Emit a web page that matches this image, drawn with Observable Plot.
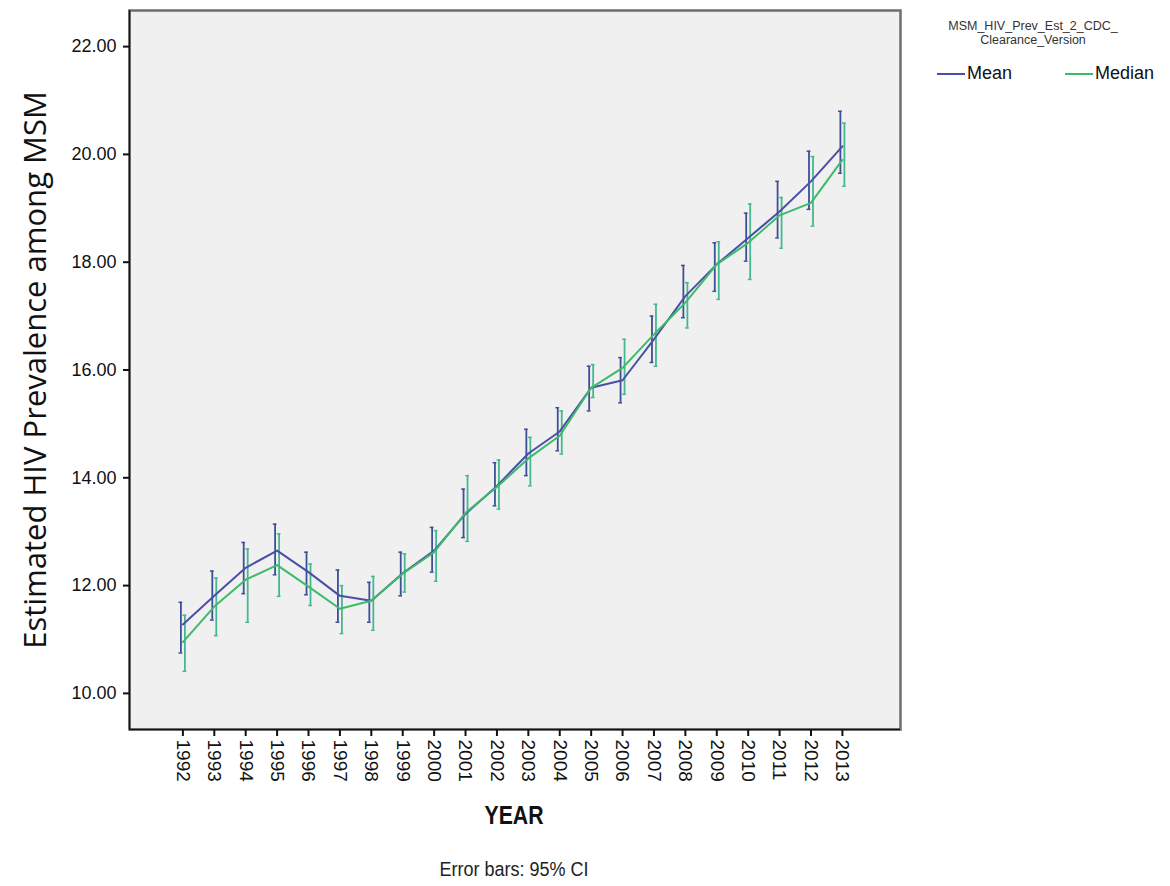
<!DOCTYPE html>
<html>
<head>
<meta charset="utf-8">
<script src="https://cdn.jsdelivr.net/npm/d3@7"></script>
<script src="https://cdn.jsdelivr.net/npm/@observablehq/plot@0.6"></script>
<style>
  body { margin: 0; background: #ffffff; }
  #wrap { position: relative; width: 1170px; height: 886px; overflow: hidden; font-family: "Liberation Sans", Arial, sans-serif; }
  #chart { position: absolute; left: 0; top: 0; }
  .legend-title { position: absolute; left: 933px; width: 200px; text-align: center; font-size: 12.5px; line-height: 14px; color: #333; top: 19px; }
  .legend-item { position: absolute; top: 63px; font-size: 18px; color: #111; display: flex; align-items: center; }
  .legend-item .sw { display: inline-block; width: 28px; height: 2px; margin-right: 2px; }
  #xtitle { position: absolute; left: 414px; width: 200px; text-align: center; top: 801px; font-size: 25px; font-weight: bold; color: #111; transform: scaleX(0.85); }
  #caption { position: absolute; left: 414px; width: 200px; text-align: center; top: 859px; font-size: 18px; color: #222; transform: scaleY(1.15); }
</style>
</head>
<body>
<div id="wrap">
  <div id="chart"></div>
  <div class="legend-title" id="legendTitle"></div>
  <div id="legendItems"></div>
  <div id="xtitle"></div>
  <div id="caption"></div>
</div>
<script>
// ---- data ----
const years = [1992,1993,1994,1995,1996,1997,1998,1999,2000,2001,2002,2003,2004,2005,2006,2007,2008,2009,2010,2011,2012,2013];
const meanValues  = [11.28,11.81,12.33,12.65,12.25,11.81,11.72,12.23,12.65,13.33,13.85,14.45,14.86,15.67,15.81,16.57,17.37,17.96,18.45,18.94,19.50,20.15];
const meanLower   = [10.75,11.36,11.85,12.20,11.83,11.32,11.32,11.81,12.25,12.89,13.48,14.04,14.50,15.24,15.39,16.14,16.97,17.46,18.02,18.45,18.98,19.65];
const meanUpper   = [11.69,12.27,12.80,13.14,12.62,12.29,12.06,12.62,13.08,13.79,14.28,14.90,15.30,16.07,16.23,17.00,17.94,18.36,18.91,19.50,20.06,20.80];
const medianValues= [10.95,11.61,12.11,12.38,11.98,11.57,11.72,12.22,12.62,13.35,13.83,14.36,14.78,15.67,16.04,16.66,17.25,17.96,18.36,18.87,19.10,19.90];
const medianLower = [10.41,11.07,11.32,11.80,11.63,11.11,11.17,11.88,12.08,12.82,13.42,13.85,14.44,15.49,15.55,16.07,16.78,17.31,17.68,18.26,18.67,19.41];
const medianUpper = [11.45,12.14,12.68,12.96,12.40,12.00,12.17,12.59,13.02,14.04,14.33,14.75,15.24,16.10,16.57,17.22,17.62,18.38,19.08,19.20,19.96,20.58];
const yTicks = [10,12,14,16,18,20,22];
const seriesNames = ["Mean","Median"];
const seriesColors = ["#4a4fa6","#3dba6a"];
const barColors = ["#3d4f96","#45b88f"];
const legendTitleLines = ["MSM_HIV_Prev_Est_2_CDC_","Clearance_Version"];
const yLabel = "Estimated HIV Prevalence among MSM";
const xLabel = "YEAR";
const captionText = "Error bars: 95% CI";

// ---- build table ----
const rows = [];
years.forEach((year, i) => {
  rows.push({year, series: seriesNames[0], value: meanValues[i], lo: meanLower[i], hi: meanUpper[i]});
  rows.push({year, series: seriesNames[1], value: medianValues[i], lo: medianLower[i], hi: medianUpper[i]});
});
const meanRows = rows.filter(d => d.series === seriesNames[0]);
const medianRows = rows.filter(d => d.series === seriesNames[1]);

const xDomain = [1990.3, 2014.85];
const yDomain = [9.33, 22.67];
const capHalf = 0.06;

function errorBars(data, color, dx) {
  return [
    Plot.ruleX(data, {x: "year", y1: "lo", y2: "hi", stroke: color, strokeWidth: 1.8, dx}),
    Plot.ruleY(data, {y: "hi", x1: d => d.year - capHalf, x2: d => d.year + capHalf, stroke: color, strokeWidth: 1.5, dx}),
    Plot.ruleY(data, {y: "lo", x1: d => d.year - capHalf, x2: d => d.year + capHalf, stroke: color, strokeWidth: 1.5, dx})
  ];
}

const chart = Plot.plot({
  width: 920,
  height: 800,
  marginLeft: 129,
  marginRight: 20,
  marginTop: 10,
  marginBottom: 71,
  style: {fontFamily: "'Liberation Sans', Arial, sans-serif", color: "#111", background: "transparent"},
  x: {type: "linear", domain: xDomain},
  y: {domain: yDomain},
  marks: [
    Plot.frame({fill: "#f0f0f0", stroke: "#6e6e6e", strokeWidth: 2.5}),
    Plot.ruleX([xDomain[0]], {stroke: "#111", strokeWidth: 1.5}),
    Plot.ruleY([yDomain[0]], {stroke: "#111", strokeWidth: 1.5}),
    ...errorBars(meanRows, barColors[0], -2),
    ...errorBars(medianRows, barColors[1], 2),
    Plot.line(meanRows, {x: "year", y: "value", stroke: seriesColors[0], strokeWidth: 2}),
    Plot.line(medianRows, {x: "year", y: "value", stroke: seriesColors[1], strokeWidth: 2}),
    Plot.axisY({ticks: yTicks, tickFormat: d3.format(".2f"), tickSize: 6, tickPadding: 7, fontSize: 18, strokeWidth: 2, label: null}),
    Plot.axisX({ticks: years, tickFormat: d => String(d), tickRotate: 90, tickSize: 7, tickPadding: 3, fontSize: 19, strokeWidth: 2, label: null}),
    Plot.text([yLabel], {frameAnchor: "left", textAnchor: "middle", rotate: -90, dx: -93, fontSize: 31, fontFamily: "'Open Sans', sans-serif", fill: "#111"})
  ]
});
document.getElementById("chart").appendChild(chart);

// ---- legend & texts ----
document.getElementById("legendTitle").innerHTML = legendTitleLines.join("<br>");
const li = document.getElementById("legendItems");
const lefts = [937, 1065];
seriesNames.forEach((name, i) => {
  const el = document.createElement("div");
  el.className = "legend-item";
  el.style.left = lefts[i] + "px";
  el.innerHTML = `<span class="sw" style="background:${seriesColors[i]}"></span><span>${name}</span>`;
  li.appendChild(el);
});
document.getElementById("xtitle").textContent = xLabel;
document.getElementById("caption").textContent = captionText;
</script>
</body>
</html>
